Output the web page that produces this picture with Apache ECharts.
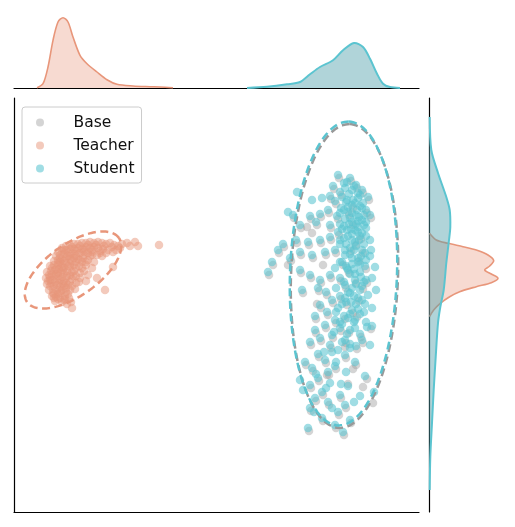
<!DOCTYPE html>
<html><head><meta charset="utf-8">
<script src="https://cdn.jsdelivr.net/npm/echarts/dist/echarts.min.js"></script>
<style>html,body{margin:0;padding:0;background:#fff}#c{width:515px;height:527px}</style>
</head><body><div id="c"></div>
<script>
// ---------- DATA ----------
const seriesNames = ['Base', 'Teacher', 'Student'];

const teacherPoints = [
[48,264],[52,266],[56,267],[60,268],[64,268],[68,269],[72,269],[76,270],[80,269],[84,270],[88,269],[92,268],[96,269],[100,267],[104,266],[108,268],[113,269],[121,270],[124,266],[145,267],
[44,260],[48,261],[52,262],[56,263],[60,263],[64,264],[68,263],[72,265],[76,264],[80,265],[84,264],[89,263],[94,262],[99,260],[106,264],
[42,256],[46,257],[50,258],[54,259],[58,259],[62,258],[66,259],[70,260],[74,259],[78,260],[83,257],[88,256],
[40,251],[44,252],[48,253],[52,254],[56,253],[60,254],[64,253],[69,254],[74,252],[80,250],[99,245],
[36,246],[40,247],[44,247],[48,248],[52,249],[56,248],[60,247],[65,246],[72,247],[78,244],
[33,240],[37,241],[41,242],[45,243],[49,242],[53,241],[58,240],[66,239],[74,237],[83,234],
[32,234],[36,235],[40,236],[44,236],[48,235],[52,234],[58,233],[65,230],[72,231],
[33,228],[37,229],[41,230],[45,229],[49,228],[54,227],[61,223],
[35,222],[39,223],[43,222],[47,221],[52,220],[56,222],[91,222],
[38,216],[42,215],[46,214],[51,216],[41,211],[48,210],
[53,208],[58,204],[51,213],
[46,250],[50,244],[42,238],[54,246],[46,232],[50,226],[44,218],[56,256],[62,250],[68,250],[38,244],[36,232],[39,219],
[50,262],[58,265],[66,266],[74,267],[82,267],[90,266],[98,265],[62,261],[70,262],[78,262],[86,261],[46,254],[54,256],[62,256],[70,257],[78,257],[86,259],
[44,249],[50,251],[58,251],[66,252],[72,250],[42,243],[48,245],[56,245],[62,244],[68,244],[38,238],[44,239],[50,239],[56,237],[62,236],
[38,232],[44,233],[50,231],[56,230],[40,226],[46,225],[52,224],[40,218],[46,219],[50,212],[55,214],[35,237],[60,241],[70,241],[76,256],[92,259],[102,262],[116,266],
[43,227],[48,222],[54,218],[44,213],[57,210],[36,226],[58,226],[62,229],[34,231],[40,214],[52,229],[47,240],[53,236],[59,236],[66,234]
];

const studentPoints = [
[324,337],[336,334],[330,329],[319,326],[342,327],[348,322],[326,320],[335,318],[316,316],[344,314],[354,315],[321,311],[332,310],
[283,320],[298,312],[308,314],
[338,307],[346,306],[327,304],[314,302],[352,302],[334,300],[342,297],[323,296],[331,293],[348,292],[306,298],[296,296],[356,297],[338,290],[326,288],[316,287],[344,285],[352,284],[333,282],[302,290],[286,287],[279,297],[274,300],
[324,280],[338,278],[346,276],[330,274],[316,275],[356,272],[341,270],[326,268],[306,272],[294,270],[282,272],[336,264],[348,262],[321,262],[311,260],[331,257],[344,254],[356,256],[298,257],[286,260],[269,268],[264,262],[258,250],[254,240],[276,254],
[328,250],[338,248],[351,246],[321,244],[334,242],[346,240],[316,237],[326,234],[341,232],[358,234],[306,232],[296,237],[286,242],[331,227],[348,226],[322,224],[304,224],[288,222],[312,220],[362,222],
[336,219],[326,216],[344,214],[318,212],[332,210],[351,208],[306,207],[324,204],[338,202],[313,200],[346,198],[301,196],[330,196],[358,204],[321,192],[341,192],
[311,187],[326,184],[301,182],[336,182],[318,177],[346,178],[306,174],[331,172],[296,170],[316,167],[342,166],[324,162],
[304,158],[331,157],[311,152],[291,150],[341,150],[321,146],[298,144],[332,140],[314,140],[304,134],[351,136],
[316,129],[296,127],[334,126],[289,122],[308,120],[326,117],[301,114],[346,116],[360,120],[314,110],[331,107],[296,104],[324,100],[308,94],[336,92],[321,87],[294,84],[329,80],
[331,324],[338,322],[344,319],[328,315],[339,312],[349,309],[334,305],[343,302],[326,299],[350,297],[336,294],[344,291],[330,286],[341,282],[348,279],[334,276],[326,272],[342,266],[331,262],[351,259],[338,254],[326,250],[346,248],[333,244],[341,238],[352,232],[330,230],[338,224],[354,217],[331,214],[342,208],[350,200],[334,194],[352,190],[328,188],[341,184],[358,186],[348,172],[356,167],[336,164],
[333,330],[340,326],[346,317],[333,312],[341,309],[348,304],[330,302],[338,299],[345,295],[352,290],[335,288],[342,288],[350,287],[328,283],[337,283],[344,280],[352,276],[338,272],[345,272],[332,268],
[350,268],[340,262],[347,256],[336,258],[344,250],[332,246],[352,252],[340,243],[347,235],[336,238],[342,228],[350,230],[334,220],[346,222],[340,216],[328,208],[348,212],[337,210],[322,200],[344,203],
[336,198],[326,190],[340,190],[320,180],[333,178],[328,170],[318,160],[336,168],[310,160],[322,150],[327,128],[312,124],[318,104],[340,110],[302,138],[286,132],[300,100],[353,185],[357,262],[361,245]
];

const basePoints = [
[325,334],[337,331],[320,323],[343,324],[327,317],[317,313],[355,312],[322,308],[339,304],[315,299],[353,299],[335,297],[324,293],[307,295],[297,293],[339,287],[317,284],[303,287],[287,284],[280,294],
[325,277],[347,273],[317,272],[342,267],[307,269],[295,267],[283,269],[337,261],[322,259],[312,257],[345,251],[299,254],[287,257],[270,265],[265,259],[259,247],[255,237],[277,251],[274,247],[309,247],
[298,279],[293,285],[329,247],[352,243],[335,239],[317,234],[327,231],[342,229],[307,229],[297,234],[287,239],[332,224],[349,223],[305,221],[289,219],[313,217],[327,213],[345,211],[319,209],[303,208],
[333,207],[307,204],[339,199],[314,197],[302,193],[331,193],[322,189],[312,184],[327,181],[302,179],[319,174],[347,175],[307,171],[332,169],[297,167],[317,164],[331,165],[343,163],[305,155],[332,154],
[292,147],[312,149],[342,147],[322,143],[299,141],[339,143],[315,137],[305,131],[334,128],[297,124],[309,117],[327,114],[349,125],[359,109],[302,111],[315,107],[332,104],[297,101],[325,97],[309,91],
[337,89],[322,84],[295,81],[330,77],
[349,319],[357,294],[349,259],[353,229],[343,195],[357,183],[335,179],[349,169],[313,137],[353,133]
];

// confidence ellipses: [centerX, centerY, semiMajor, semiMinor, angleDeg]
const baseEllipse    = [330.5, 236, 152, 53.5, 88];
const studentEllipse = [329.5, 238.5, 152, 53.5, 88];
const teacherEllipse = [59, 242, 56, 26, 35];

// marginal densities (top: along x; right: along y)
const topTeacherX       = [23, 29, 34, 39, 44, 49, 54, 59, 66, 73, 83, 93, 103, 119, 136, 146, 159];
const topTeacherDensity = [0.3, 4.3, 21, 47.7, 66, 70.3, 66, 51, 32.7, 24.3, 16, 8.3, 3.7, 2, 1.3, 1, 0.2];
const topStudentX       = [233, 253, 273, 286, 296, 306, 319, 329, 340, 349, 356, 363, 369, 376, 386];
const topStudentDensity = [0.1, 1.3, 3.7, 6, 13.7, 21, 27.7, 37.7, 45, 41, 29.3, 14.3, 4.3, 1, 0.1];

const rightTeacherY       = [278.7, 272, 268.7, 265.3, 262, 257, 251.3, 246, 242, 238, 233.7, 229.3, 225.3, 220.3, 215.3, 208.7, 202, 195.3];
const rightTeacherDensity = [0.5, 7.3, 19, 34, 47.3, 59, 64.7, 60.7, 55.7, 62.3, 69, 62.3, 47.3, 30.7, 20.7, 11.3, 4.7, 0.5];
const rightStudentY       = [395, 362, 339, 315, 302, 285, 272, 249, 222, 205, 189, 155, 122, 89, 55, 22];
const rightStudentDensity = [0.7, 2.3, 9, 17.3, 20.7, 21.3, 20, 17.3, 14.7, 11.3, 9, 6.7, 4.7, 3, 1.3, 0.7];

// ---------- STYLE ----------
const colBase = '#999999', colTeacher = '#E8967A', colStudent = '#5BC4D0';

const chart = echarts.init(document.getElementById('c'), null, {renderer: 'canvas'});

function kdeSeries(xIdx, yIdx, pos, dens, vertical, lineColor, fillColor, lw, z) {
  return {
    type: 'custom', xAxisIndex: xIdx, yAxisIndex: yIdx, data: [0], silent: true, z: z, clip: false,
    renderItem: function (params, api) {
      const pts = pos.map((v, i) => vertical ? api.coord([dens[i], v]) : api.coord([v, dens[i]]));
      const b0 = vertical ? api.coord([0, pos[0]]) : api.coord([pos[0], 0]);
      const b1 = vertical ? api.coord([0, pos[pos.length - 1]]) : api.coord([pos[pos.length - 1], 0]);
      return {
        type: 'group', children: [
          {type: 'polygon', shape: {points: [b0].concat(pts, [b1]), smooth: 0.3}, style: {fill: fillColor, stroke: 'none'}},
          {type: 'polyline', shape: {points: pts, smooth: 0.3}, style: {fill: 'none', stroke: lineColor, lineWidth: lw}}
        ]
      };
    }
  };
}

const ellipseColors = [colBase, colStudent, colTeacher];

const axisLine = {show: true, onZero: false, lineStyle: {color: '#000', width: 1.2}};
const hideBits = {axisTick: {show: false}, axisLabel: {show: false}, splitLine: {show: false}};

chart.setOption({
  animation: false,
  backgroundColor: '#fff',
  grid: [
    {left: 14, top: 98, width: 405, height: 414},
    {left: 14, top: 8, width: 405, height: 80},
    {left: 429, top: 98, width: 80, height: 414}
  ],
  xAxis: [
    Object.assign({type: 'value', gridIndex: 0, min: 0, max: 405, axisLine: axisLine}, hideBits),
    Object.assign({type: 'value', gridIndex: 1, min: 0, max: 405, axisLine: axisLine}, hideBits),
    Object.assign({type: 'value', gridIndex: 2, min: 0, max: 80, show: false}, hideBits)
  ],
  yAxis: [
    Object.assign({type: 'value', gridIndex: 0, min: 0, max: 414, axisLine: axisLine}, hideBits),
    Object.assign({type: 'value', gridIndex: 1, min: 0, max: 80, show: false}, hideBits),
    Object.assign({type: 'value', gridIndex: 2, min: 0, max: 414, axisLine: axisLine}, hideBits)
  ],
  legend: {
    data: seriesNames,
    orient: 'vertical', left: 22, top: 107,
    padding: [7, 7, 6, 14],
    itemWidth: 17, itemHeight: 8, itemGap: 6,
    icon: 'circle',
    backgroundColor: 'rgba(255,255,255,0.8)',
    borderColor: '#cccccc', borderWidth: 1, borderRadius: 3,
    textStyle: {fontFamily: 'DejaVu Sans', fontSize: 15.5, color: '#111', lineHeight: 17, padding: [0, 0, 0, 20]},
    selectedMode: false
  },
  series: [
    {name: 'Base', type: 'scatter', xAxisIndex: 0, yAxisIndex: 0, data: basePoints, symbol: 'circle', symbolSize: 8.5,
      itemStyle: {color: 'rgba(160,160,160,0.45)', opacity: 1, borderWidth: 0}, z: 2},
    {name: 'Teacher', type: 'scatter', xAxisIndex: 0, yAxisIndex: 0, data: teacherPoints, symbol: 'circle', symbolSize: 8.5,
      itemStyle: {color: 'rgba(232,150,122,0.5)', opacity: 1, borderWidth: 0}, z: 3},
    {name: 'Student', type: 'scatter', xAxisIndex: 0, yAxisIndex: 0, data: studentPoints, symbol: 'circle', symbolSize: 8.5,
      itemStyle: {color: 'rgba(91,196,208,0.58)', opacity: 1, borderWidth: 0}, z: 4},
    {type: 'custom', xAxisIndex: 0, yAxisIndex: 0, data: [baseEllipse, studentEllipse, teacherEllipse], silent: true, z: 6,
      dimensions: ['cx', 'cy', 'a', 'b', 'ang'], encode: {x: 0, y: 1},
      renderItem: function (params, api) {
        const cx = api.value(0), cy = api.value(1), a = api.value(2), b = api.value(3), th = api.value(4) * Math.PI / 180;
        const pts = [];
        for (let k = 0; k <= 160; k++) {
          const t = 2 * Math.PI * k / 160;
          const x = cx + a * Math.cos(t) * Math.cos(th) - b * Math.sin(t) * Math.sin(th);
          const y = cy + a * Math.cos(t) * Math.sin(th) + b * Math.sin(t) * Math.cos(th);
          pts.push(api.coord([x, y]));
        }
        return {type: 'polyline', shape: {points: pts},
          style: {fill: 'none', stroke: ellipseColors[params.dataIndex], lineWidth: 2.5, lineDash: [8, 4.5]}};
      }
    },
    kdeSeries(1, 1, topTeacherX, topTeacherDensity, false, colTeacher, 'rgba(232,150,122,0.35)', 1.6, 2),
    kdeSeries(1, 1, topStudentX, topStudentDensity, false, colStudent, 'rgba(80,160,170,0.45)', 2, 3),
    kdeSeries(2, 2, rightTeacherY, rightTeacherDensity, true, colTeacher, 'rgba(232,150,122,0.35)', 1.6, 2),
    kdeSeries(2, 2, rightStudentY, rightStudentDensity, true, colStudent, 'rgba(80,160,170,0.45)', 2, 3)
  ]
});
</script>
</body></html>
